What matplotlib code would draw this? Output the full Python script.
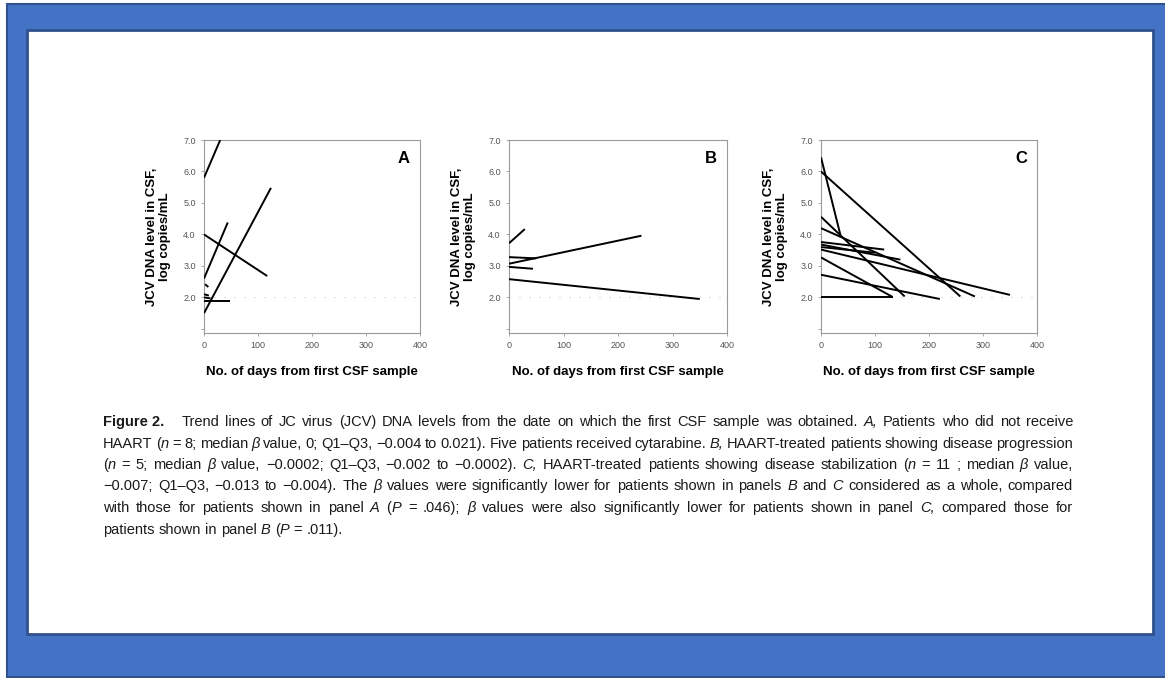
import re

import matplotlib
matplotlib.use('Agg')
import matplotlib.pyplot as plt
from matplotlib import font_manager
from matplotlib.patches import Rectangle
from matplotlib.transforms import IdentityTransform

W_PX, H_PX = 1165, 678

# Trend lines per panel: start/end day and start/end log10 copies/mL
a_days = [(0, 30), (0, 44), (0, 124), (0, 117), (2, 8), (0, 48), (0, 9), (0, 12)]
a_logs = [(5.8, 7.0), (2.6, 4.38), (1.5, 5.48), (4.0, 2.68), (2.42, 2.33), (1.9, 1.9), (2.1, 2.06), (2.0, 1.97)]

b_days = [(0, 29), (0, 243), (0, 50), (0, 44), (0, 350)]
b_logs = [(3.72, 4.17), (3.07, 3.96), (3.28, 3.24), (2.97, 2.91), (2.58, 1.95)]

c_days = [(0, 36), (0, 258), (0, 155), (0, 285), (0, 117), (0, 147), (0, 350), (0, 132), (0, 220), (0, 133), (0, 100)]
c_logs = [(6.45, 3.98), (6.0, 2.03), (4.56, 2.03), (4.2, 2.03), (3.76, 3.52), (3.68, 3.2), (3.52, 2.08),
          (3.27, 2.02), (2.72, 1.95), (2.0, 2.0), (3.6, 3.42)]

panel_names = ['A', 'B', 'C']
x_ticks = [0, 100, 200, 300, 400]
y_ticks = [1, 2, 3, 4, 5, 6, 7]
y_ticklabels = ['', '2.0', '3.0', '4.0', '5.0', '6.0', '7.0']
y_label = 'JCV DNA level in CSF,\nlog copies/mL'
x_label = 'No. of days from first CSF sample'

caption = [
    "**Figure~2.** _ _ Trend lines of JC virus (JCV) DNA levels from the date on which the first CSF sample was obtained. *A,* Patients who did not receive",
    "HAART (*n* = 8; median *β* value, 0; Q1–Q3, −0.004 to 0.021). Five patients received cytarabine. *B,* HAART-treated patients showing disease progression",
    "(*n* = 5; median *β* value, −0.0002; Q1–Q3, −0.002 to −0.0002). *C,* HAART-treated patients showing disease stabilization (*n* = 11 ; median *β* value,",
    "−0.007; Q1–Q3, −0.013 to −0.004). The *β* values were significantly lower for patients shown in panels *B* and *C* considered as a whole, compared",
    "with those for patients shown in panel *A* (*P* = .046); *β* values were also significantly lower for patients shown in panel *C,* compared those for",
    "patients shown in panel *B* (*P* = .011).",
]


def pick_font(names):
    have = {f.name for f in font_manager.fontManager.ttflist}
    for n in names:
        if n in have:
            return n
    return 'DejaVu Sans'


base_font = pick_font(['Liberation Sans', 'Arial'])
cap_font = pick_font(['Liberation Sans Narrow', 'DejaVu Sans Condensed', 'Liberation Sans'])
plt.rcParams['font.family'] = [base_font, 'DejaVu Sans']


def px_rect(x0, y0, x1, y1):
    """Pixel box (top-left origin) to figure fraction rect"""
    return [x0 / W_PX, 1 - y1 / H_PX, (x1 - x0) / W_PX, (y1 - y0) / H_PX]


fig = plt.figure(figsize=(W_PX / 100, H_PX / 100), dpi=100)
fig.patch.set_facecolor('white')

# slide-like frame
fig.add_artist(Rectangle((7 / W_PX, 1 - 677 / H_PX), 1.0, 673 / H_PX, transform=fig.transFigure,
                         facecolor='#4472C4', edgecolor='#2F528F', lw=1.5, zorder=-10))
fig.add_artist(Rectangle((27 / W_PX, 1 - 634 / H_PX), 1126 / W_PX, 604 / H_PX, transform=fig.transFigure,
                         facecolor='white', edgecolor='#2F528F', lw=2, zorder=-9))

panel_px = [(204, 420), (509, 727), (821, 1037)]
panel_days = [a_days, b_days, c_days]
panel_logs = [a_logs, b_logs, c_logs]

for (x0, x1), days, logs, name in zip(panel_px, panel_days, panel_logs, panel_names):
    ax = fig.add_axes(px_rect(x0, 140, x1, 333))
    ax.set_facecolor('none')
    ax.axhline(2.0, color='#c8c8c8', lw=0.8, ls=(0, (1, 8)), zorder=1)
    for d, v in zip(days, logs):
        ax.plot(d, v, color='black', lw=1.4, solid_capstyle='butt', zorder=3)
    ax.set_xlim(0, 400)
    ax.set_ylim(0.87, 7.0)
    ax.set_xticks(x_ticks)
    ax.set_yticks(y_ticks)
    ax.set_yticklabels(y_ticklabels)
    for sp in ax.spines.values():
        sp.set_color('#9a9a9a')
        sp.set_linewidth(0.8)
    ax.tick_params(direction='out', length=2.5, width=0.6, color='#9a9a9a',
                   labelsize=6.5, labelcolor='#555555', pad=3.5)
    ax.set_xlabel(x_label, fontsize=9.5, fontweight='bold', labelpad=11)
    ax.set_ylabel(y_label, fontsize=9.5, fontweight='bold', labelpad=9, linespacing=1.05)
    ax.text(0.926, 0.905, name, transform=ax.transAxes, ha='center', va='center',
            fontsize=12, fontweight='bold')

# justified caption, word by word (pixel coordinates, integer baselines)
renderer = fig.canvas.get_renderer()
cap_size = 10.5
cap_left, cap_right = 103, 1073
cap_fam = [cap_font, 'DejaVu Sans']


def parse_word(word):
    runs = []
    for part in re.split(r'(\*\*.+?\*\*|\*.+?\*)', word.replace('~', ' ')):
        if not part:
            continue
        if part.startswith('**'):
            runs.append((part[2:-2], 'normal', 'bold'))
        elif part.startswith('*'):
            runs.append((part[1:-1], 'italic', 'normal'))
        else:
            runs.append((part, 'normal', 'normal'))
    return runs


def make_text(x, y, s, style, weight):
    return fig.text(x, H_PX - y, s, transform=IdentityTransform(), fontsize=cap_size, family=cap_fam,
                    fontstyle=style, fontweight=weight, color='#1a1a1a', va='baseline', ha='left')


def text_width(s, style, weight):
    t = make_text(0, 0, s, style, weight)
    w = t.get_window_extent(renderer).width
    t.remove()
    return w


space_w = text_width('a a', 'normal', 'normal') - text_width('aa', 'normal', 'normal')

for i, line in enumerate(caption):
    words = []
    for w in line.split(' '):
        if w == '_':
            words.append([])
        else:
            words.append(parse_word(w))
    widths = [[text_width(*r) for r in runs] for runs in words]
    total = sum(sum(ws) for ws in widths)
    if i < len(caption) - 1:
        gap = (cap_right - cap_left - total) / (len(words) - 1)
    else:
        gap = space_w
    y = round(426 + i * 21.5)
    x = cap_left
    for runs, ws in zip(words, widths):
        for r, wr in zip(runs, ws):
            make_text(x, y, *r)
            x += wr
        x += gap

fig.savefig('out.png', dpi=100)
